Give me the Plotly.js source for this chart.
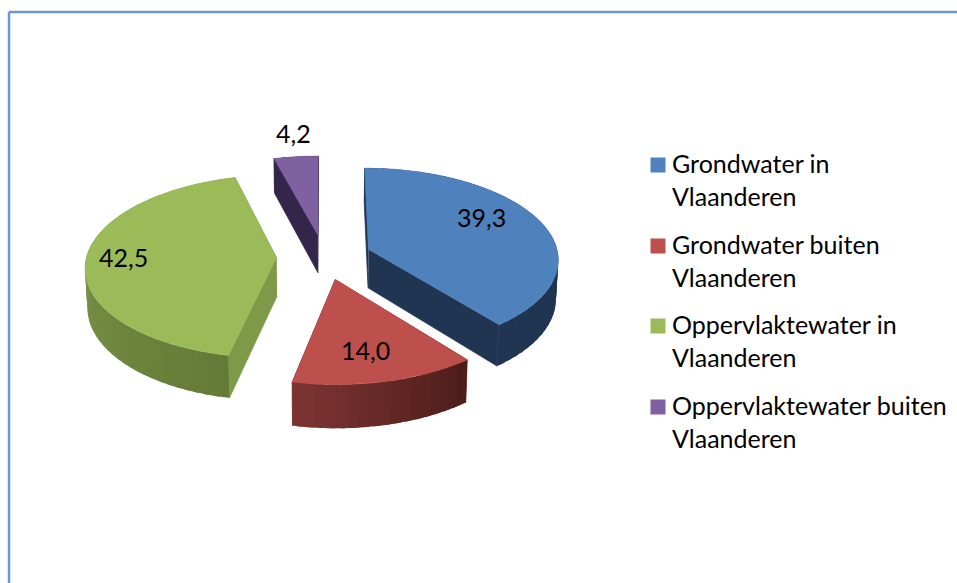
<!DOCTYPE html>
<html><head><meta charset="utf-8">
<script src="https://cdn.plot.ly/plotly-3.0.1.min.js"></script>
<style>html,body{margin:0;padding:0;background:#fff;overflow:hidden}#c{width:957px;height:583px}</style>
</head><body><div id="c"></div>
<script>
// data
const categories = ["Grondwater in<br>Vlaanderen","Grondwater buiten<br>Vlaanderen","Oppervlaktewater in<br>Vlaanderen","Oppervlaktewater buiten<br>Vlaanderen"];
const values = [39.3, 14.0, 42.5, 4.2];
// styles
const topColors = ["#4f81bd","#bd4f4c","#9bbb59","#7f61a1"];
const faceColors = ["#1f3552","#7a3331","#7e9a49","#33264a"];
const arcFrom = ["#1f3552","#4c1c19","#647a37","#33264a"]; // low angle
const arcTo   = ["#1f3552","#7d3533","#8ea855","#33264a"]; // high angle
const labelPos = [[481,217],[365,350],[123,257],[293,133]];
const legendRows = [165,246,326,407];
const legendX = 658, legendTextX = 673;
// projection of the exploded tilted pie onto the axes
const CX=324, CY=257, A=190, B=90.5, K=0.095, EXPLODE=0.25, DEPTH=38.5, SHRINK=0.99;
function proj(X,Y,low){
  const p=1/(1+K*Y);
  let x=CX+A*X*p, y=CY-B*Y*p;
  if(low){ x=CX+(x-CX)*SHRINK; y+=DEPTH*p; }
  return [x,y];
}
const rad=d=>d*Math.PI/180;
function hex(c){return [1,3,5].map(i=>parseInt(c.substr(i,2),16));}
function mix(a,b,t){const x=hex(a),y=hex(b);return 'rgb('+x.map((v,i)=>Math.round(v+(y[i]-v)*t)).join(',')+')';}
function poly(pts,color,lw){
  return {type:'scatter',mode:lw?'lines':'none',x:pts.map(p=>p[0]),y:pts.map(p=>p[1]),fill:'toself',fillcolor:color,
    line:{color:color,width:lw||0},hoverinfo:'skip',showlegend:false};
}
const total=values.reduce((a,b)=>a+b,0);
let traces=[], cum=0;
values.forEach((v,i)=>{
  const t0=cum/total*360, t1=(cum+v)/total*360; cum+=v;
  const mid=rad((t0+t1)/2), ox=EXPLODE*Math.sin(mid), oy=EXPLODE*Math.cos(mid);
  const rim=(t,low)=>proj(ox+Math.sin(rad(t)),oy+Math.cos(rad(t)),low);
  const tip=low=>proj(ox,oy,low);
  const face=t=>poly([tip(false),rim(t,false),rim(t,true),tip(true)],faceColors[i],0.8);
  traces.push(face(t0));
  // outer wall in overlapping strips, painted in order so that no seams show
  const n=Math.max(4,Math.ceil((t1-t0)/3));
  for(let s=0;s<n;s++){
    const a=t0+(t1-t0)*s/n;
    const pts=[], low=[];
    for(let u=0;u<=6;u++){
      const t=a+(t1-a)*u/6*Math.min(1,((t1-t0)/n*1.6)/(t1-a));
      pts.push(rim(t,false)); low.unshift(rim(t,true));
    }
    traces.push(poly(pts.concat(low),mix(arcFrom[i],arcTo[i],(s+.5)/n)));
  }
  traces.push(face(t1));
  // top
  const pts=[tip(false)];
  for(let s=0;s<=Math.ceil(t1-t0);s++) pts.push(rim(t0+(t1-t0)*s/Math.ceil(t1-t0),false));
  traces.push(poly(pts,topColors[i],0.6));
});
// legend swatches
traces.push({type:'scatter',mode:'markers',x:legendRows.map(()=>legendX),y:legendRows,
  marker:{symbol:'square',size:15,color:topColors,line:{width:0}},hoverinfo:'skip',showlegend:false});
const font='Lato, "Open Sans", sans-serif';
const anns=[];
values.forEach((v,i)=>anns.push({x:labelPos[i][0],y:labelPos[i][1],xref:'x',yref:'y',showarrow:false,
  text:v.toFixed(1).replace('.',','),font:{family:font,size:25,color:'#000'},xanchor:'center',yanchor:'middle'}));
categories.forEach((c,i)=>anns.push({x:legendTextX,y:legendRows[i]-16,xref:'x',yref:'y',showarrow:false,
  text:c,align:'left',font:{family:font,size:25,color:'#000'},xanchor:'left',yanchor:'top',xshift:-2,yshift:2,borderpad:0}));
const frame=[[9,583,9,12],[9,12,957,12]].map(l=>({type:'line',x0:l[0],y0:l[1],x1:l[2],y1:l[3],xref:'x',yref:'y',
  line:{color:'#6a98d0',width:2.5}}));
Plotly.newPlot('c',traces,{
  width:957,height:583,margin:{l:0,r:0,t:0,b:0},paper_bgcolor:'#fff',plot_bgcolor:'#fff',showlegend:false,
  xaxis:{range:[0,957],visible:false,fixedrange:true},
  yaxis:{range:[583,0],visible:false,fixedrange:true},
  annotations:anns,shapes:frame
},{staticPlot:true,displayModeBar:false});
</script></body></html>
